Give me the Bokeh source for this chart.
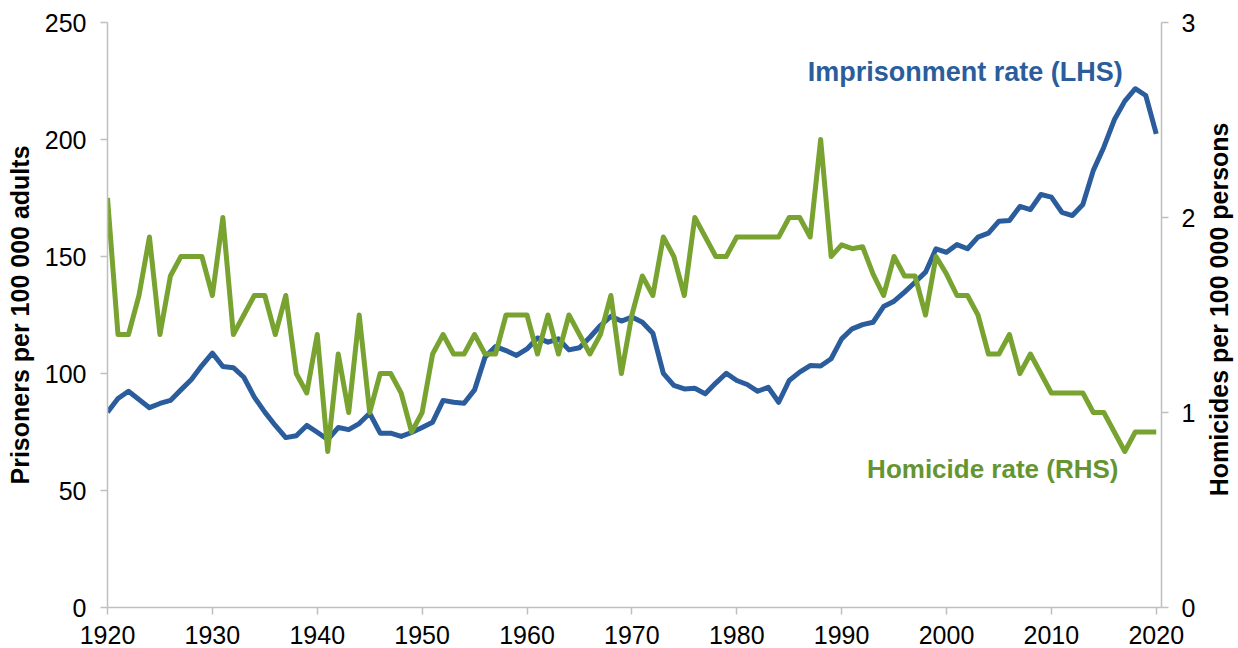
import math
from bokeh.plotting import figure
from bokeh.models import Range1d, LinearAxis, Label, FixedTicker
from bokeh.embed import file_html
from bokeh.resources import INLINE

years = list(range(1920, 2021))

imprisonment = [
    83.5, 89.3, 92.4, 88.9, 85.4, 87.2, 88.5, 93.0, 97.4, 103.4,
    108.7, 103.0, 102.5, 98.4, 89.9, 83.5, 77.8, 72.6, 73.4, 77.8,
    74.9, 71.8, 76.9, 76.0, 78.6, 83.0, 74.5, 74.5, 73.1, 74.8,
    76.9, 79.2, 88.5, 87.7, 87.3, 93.0, 107.0, 111.5, 109.8, 107.7,
    110.5, 115.2, 113.4, 114.8, 110.1, 111.0, 115.5, 120.5, 124.4, 122.4,
    124.1, 121.9, 117.2, 100.1, 94.9, 93.4, 93.7, 91.3, 95.9, 100.1,
    97.0, 95.3, 92.4, 94.1, 87.7, 97.0, 100.6, 103.4, 103.2, 106.3,
    114.8, 119.1, 120.9, 121.9, 128.6, 130.9, 134.8, 139.0, 143.3, 153.3,
    151.8, 155.1, 153.3, 158.3, 160.0, 165.1, 165.4, 171.4, 170.0, 176.5,
    175.4, 168.9, 167.5, 172.2, 186.8, 196.7, 208.4, 216.4, 221.7, 218.8,
    202.4,
]

homicide = [
    2.1, 1.4, 1.4, 1.6, 1.9, 1.4, 1.7, 1.8, 1.8, 1.8,
    1.6, 2.0, 1.4, 1.5, 1.6, 1.6, 1.4, 1.6, 1.2, 1.1,
    1.4, 0.8, 1.3, 1.0, 1.5, 1.0, 1.2, 1.2, 1.1, 0.9,
    1.0, 1.3, 1.4, 1.3, 1.3, 1.4, 1.3, 1.3, 1.5, 1.5,
    1.5, 1.3, 1.5, 1.3, 1.5, 1.4, 1.3, 1.4, 1.6, 1.2,
    1.5, 1.7, 1.6, 1.9, 1.8, 1.6, 2.0, 1.9, 1.8, 1.8,
    1.9, 1.9, 1.9, 1.9, 1.9, 2.0, 2.0, 1.9, 2.4, 1.8,
    1.86, 1.84, 1.85, 1.71, 1.6, 1.8, 1.7, 1.7, 1.5, 1.8,
    1.71, 1.6, 1.6, 1.5, 1.3, 1.3, 1.4, 1.2, 1.3, 1.2,
    1.1, 1.1, 1.1, 1.1, 1.0, 1.0, 0.9, 0.8, 0.9, 0.9,
    0.9,
]

x_ticks = [1920, 1930, 1940, 1950, 1960, 1970, 1980, 1990, 2000, 2010, 2020]
left_ticks = [0, 50, 100, 150, 200, 250]
right_ticks = [0, 1, 2, 3]

left_title = "Prisoners per 100 000 adults"
right_title = "Homicides per 100 000 persons"
blue_label = "Imprisonment rate (LHS)"
green_label = "Homicide rate (RHS)"

BLUE = "#2B5D9C"
GREEN = "#78A331"
GREEN_TEXT = "#659530"
AXIS_GREY = "#BFBFBF"
FONT = "Liberation Sans"

p = figure(width=1238, height=648,
           x_range=Range1d(1920, 2020.5), y_range=Range1d(0, 250),
           output_backend="svg", toolbar_location=None,
           min_border_left=107, min_border_right=77,
           min_border_top=22, min_border_bottom=41)
p.extra_y_ranges = {"hom": Range1d(0, 3)}
p.grid.visible = False
p.outline_line_color = None
p.background_fill_color = "white"
p.border_fill_color = "white"

p.line(years, imprisonment, color=BLUE, line_width=5, line_join="round")
p.line(years, homicide, y_range_name="hom", color=GREEN, line_width=5, line_join="round")

right_axis = LinearAxis(y_range_name="hom")
p.add_layout(right_axis, "right")

p.xaxis[0].ticker = FixedTicker(ticks=x_ticks)
p.yaxis[0].ticker = FixedTicker(ticks=left_ticks)
right_axis.ticker = FixedTicker(ticks=right_ticks)

for ax in [p.xaxis[0], p.yaxis[0], right_axis]:
    ax.axis_line_color = AXIS_GREY
    ax.axis_line_width = 1.5
    ax.major_tick_line_color = AXIS_GREY
    ax.major_tick_line_width = 1.5
    ax.major_tick_out = 7
    ax.major_tick_in = 0
    ax.minor_tick_out = 0
    ax.minor_tick_in = 0
    ax.major_label_text_font = FONT
    ax.major_label_text_font_size = "25px"
    ax.major_label_text_color = "black"
    ax.axis_label_text_font = FONT
    ax.axis_label_text_font_size = "25px"
    ax.axis_label_text_font_style = "bold"
    ax.axis_label_text_color = "black"
    ax.axis_label_standoff = 8

p.xaxis[0].major_label_standoff = 11
p.yaxis[0].major_label_standoff = 14
right_axis.major_label_standoff = 13

p.yaxis[0].axis_label = left_title

# right-hand axis title, reading bottom to top like the left one,
# placed in the right side panel so it is not clipped to the frame
p.add_layout(Label(x=2026.0, y=127.4, text=right_title, angle=math.pi / 2,
                   text_align="center", text_baseline="middle",
                   text_font=FONT, text_font_size="25px",
                   text_font_style="bold", text_color="black"), "right")

p.add_layout(Label(x=2016.8, y=228.7, text=blue_label, text_align="right",
                   text_baseline="alphabetic", text_font=FONT,
                   text_font_size="27px", text_font_style="bold",
                   text_color=BLUE))
p.add_layout(Label(x=2016.4, y=59.4, text=green_label, text_align="right",
                   text_baseline="alphabetic", text_font=FONT,
                   text_font_size="26px", text_font_style="bold",
                   text_color=GREEN_TEXT))

open("out.html", "w").write(file_html(p, INLINE))
